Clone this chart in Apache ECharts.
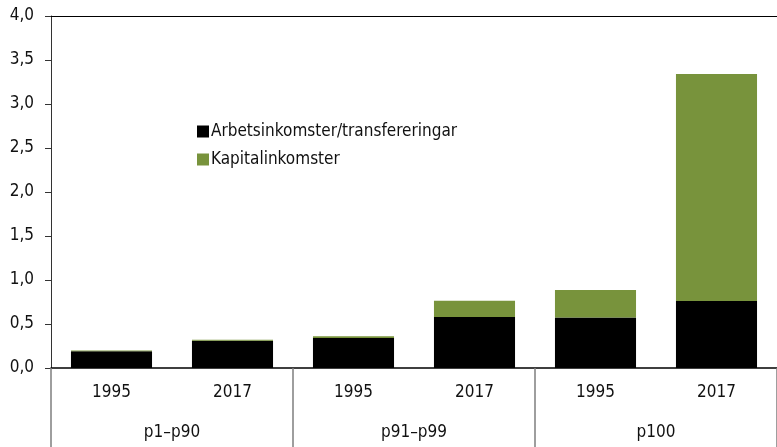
<!DOCTYPE html>
<html>
<head>
<meta charset="utf-8">
<script src="https://cdn.jsdelivr.net/npm/echarts@6/dist/echarts.min.js"></script>
<style>
  html, body { margin: 0; padding: 0; background: #fff; }
  #chart { width: 777px; height: 447px; }
</style>
</head>
<body>
<div id="chart"></div>
<script>
// kategorier och grupper
const years = ['1995', '2017', '1995', '2017', '1995', '2017']
const groups = ['p1–p90', 'p91–p99', 'p100']
// värden
const arbetsinkomster = [0.19, 0.31, 0.34, 0.58, 0.575, 0.76]
const kapitalinkomster = [0.01, 0.01, 0.02, 0.185, 0.31, 2.58]

const font = '"Liberation Sans Narrow", "DejaVu Sans Condensed", sans-serif'
const textColor = '#111'

const chart = echarts.init(document.getElementById('chart'))

const option = {
    animation: false,
    textStyle: { fontFamily: font },
    grid: { left: 51, right: 0, top: 16, bottom: 79, containLabel: false },
    legend: {
        orient: 'vertical',
        left: 192,
        top: 118,
        itemWidth: 12,
        itemHeight: 12,
        itemGap: 11,
        icon: 'rect',
        textStyle: { fontFamily: font, fontSize: 17, color: textColor, padding: [0, 0, 0, -3] },
        data: ['Arbetsinkomster/transfereringar', 'Kapitalinkomster']
    },
    xAxis: [
        {
            type: 'category',
            data: years,
            position: 'bottom',
            axisLine: { lineStyle: { color: '#000', width: 1.5 } },
            axisTick: { show: false },
            axisLabel: { fontFamily: font, fontSize: 17, color: textColor, margin: 16, interval: 0 }
        },
        {
            type: 'category',
            data: groups,
            position: 'bottom',
            axisLine: { show: false },
            axisTick: { show: true, length: 80, inside: false, lineStyle: { color: '#7f7f7f', width: 1.5 } },
            axisLabel: { fontFamily: font, fontSize: 17, color: textColor, margin: 56, interval: 0 }
        },
        {
            type: 'category',
            data: groups,
            position: 'top',
            axisLine: { lineStyle: { color: '#000', width: 1 } },
            axisTick: { show: false },
            axisLabel: { show: false }
        }
    ],
    yAxis: {
        type: 'value',
        min: 0,
        max: 4,
        interval: 0.5,
        axisLine: { show: true, lineStyle: { color: '#333', width: 1 } },
        axisTick: { show: true, length: 6, lineStyle: { color: '#333' } },
        splitLine: { show: false },
        axisLabel: {
            fontFamily: font,
            fontSize: 17,
            color: textColor,
            margin: 17,
            formatter: v => v.toFixed(1).replace('.', ',')
        }
    },
    series: [
        {
            name: 'Arbetsinkomster/transfereringar',
            type: 'bar',
            stack: 'total',
            barWidth: '67%',
            itemStyle: { color: '#000000' },
            data: arbetsinkomster
        },
        {
            name: 'Kapitalinkomster',
            type: 'bar',
            stack: 'total',
            barWidth: '67%',
            itemStyle: { color: '#78933c' },
            data: kapitalinkomster
        }
    ]
}

chart.setOption(option)
</script>
</body>
</html>
